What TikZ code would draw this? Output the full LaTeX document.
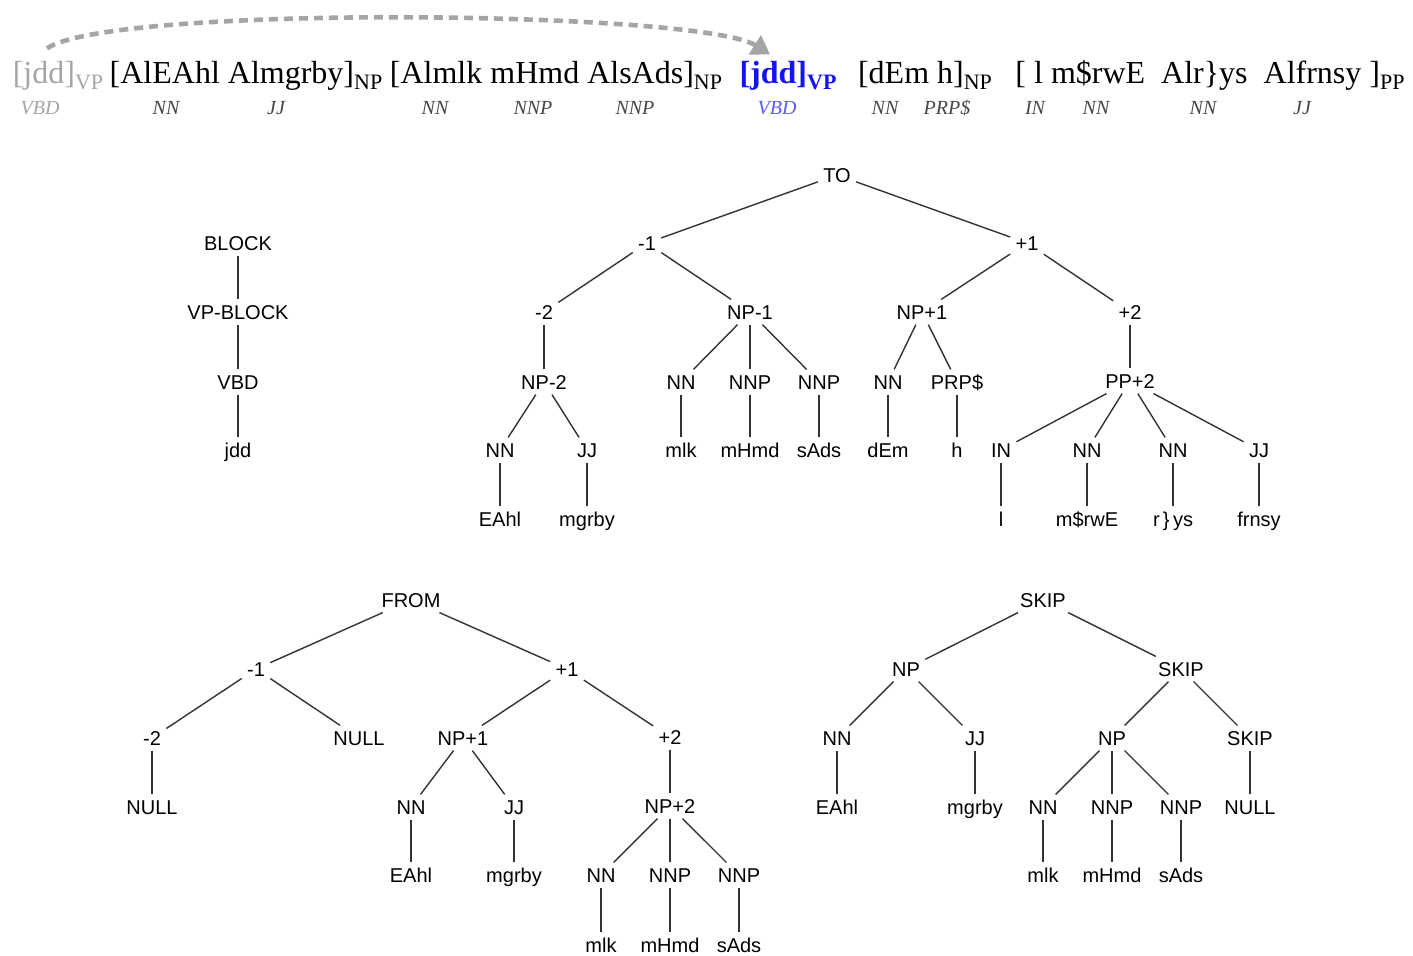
\documentclass[tikz,border=0pt]{standalone}
\usepackage{fontspec}
\setmainfont{Liberation Sans}
\newfontfamily\wordfont{Liberation Serif}
\usetikzlibrary{arrows.meta}
\definecolor{moved}{RGB}{165, 165, 165}
\definecolor{target}{RGB}{20, 20, 240}
\definecolor{tagged}{RGB}{70, 70, 70}
\newcommand{\phr}[2]{[#1]\raisebox{-0.45ex}{\fontsize{11}{11}\selectfont #2}}

\tikzset{
	lbl/.style={inner sep=2.5pt, text height=7.2pt, text depth=0pt, font=\fontsize{10}{12}\selectfont},
	word/.style={anchor=base, inner sep=1pt, font=\wordfont\fontsize{16}{18}\selectfont},
	tag/.style={inner sep=1pt, text=tagged, font=\wordfont\itshape\fontsize{10}{12}\selectfont},
	branch/.style={line width=0.7pt, draw=black!80},
	hop/.style={line width=2.3pt, draw=moved, dash pattern=on 4.5pt off 3pt, -{Triangle[length=9pt,width=11pt]}}
}

\begin{document}
\begin{tikzpicture}[x=0.5pt, y=-0.5pt]
	\useasboundingbox (0, 0) rectangle (1413, 955);

	% sentence with chunks
	\node[word, text=moved] (jddg) at (58, 83) {\phr{jdd}{VP}};
	\node[word] (chunka) at (246, 83) {\phr{AlEAhl Almgrby}{NP}};
	\node[word] (chunkb) at (556, 83) {\phr{Almlk mHmd AlsAds}{NP}};
	\node[word, text=target] (jddb) at (788, 83) {\bfseries\phr{jdd}{VP}};
	\node[word] (chunkc) at (925, 83) {\phr{dEm h}{NP}};
	\node[word] (chunkd) at (1210, 83) {\phr{ l m\$rwE\ \ Alr\}ys\ \ Alfrnsy }{PP}};

	\node[tag, text=moved] (tagvbda) at (40, 108) {VBD};
	\node[tag] (tagnna) at (166, 108) {NN};
	\node[tag] (tagjja) at (276, 108) {JJ};
	\node[tag] (tagnnb) at (435, 108) {NN};
	\node[tag] (tagnnpa) at (533, 108) {NNP};
	\node[tag] (tagnnpb) at (635, 108) {NNP};
	\node[tag, text=target!70] (tagvbdb) at (777, 108) {VBD};
	\node[tag] (tagnnc) at (885, 108) {NN};
	\node[tag] (tagprp) at (947, 108) {PRP\$};
	\node[tag] (tagin) at (1035, 108) {IN};
	\node[tag] (tagnnd) at (1096, 108) {NN};
	\node[tag] (tagnne) at (1203, 108) {NN};
	\node[tag] (tagjjb) at (1302, 108) {JJ};

	\draw[hop] ([xshift=-5.5pt, yshift=5pt]jddg.north) .. controls +(63, -44) and +(-70, -44) .. ([xshift=-9pt, yshift=2pt]jddb.north);

	% BLOCK
	\node[lbl] (bblock) at (238, 243) {BLOCK};
	\node[lbl] (bvp) at (238, 312) {VP-BLOCK};
	\node[lbl] (bvbd) at (238, 382) {VBD};
	\node[lbl] (bjdd) at (238, 450) {jdd};

	% TO
	\node[lbl] (tTO) at (837, 175) {TO};
	\node[lbl] (tm1) at (647, 243) {-1};
	\node[lbl] (tp1) at (1027, 243) {+1};
	\node[lbl] (tm2) at (544, 312) {-2};
	\node[lbl] (tnpm1) at (750, 312) {NP-1};
	\node[lbl] (tnpp1) at (922, 312) {NP+1};
	\node[lbl] (tp2) at (1130, 312) {+2};
	\node[lbl] (tnpm2) at (544, 382) {NP-2};
	\node[lbl] (tnna) at (681, 382) {NN};
	\node[lbl] (tnnpa) at (750, 382) {NNP};
	\node[lbl] (tnnpb) at (819, 382) {NNP};
	\node[lbl] (tnnb) at (888, 382) {NN};
	\node[lbl] (tprp) at (957, 382) {PRP\$};
	\node[lbl] (tpp) at (1130, 381) {PP+2};
	\node[lbl] (tnnc) at (500, 450) {NN};
	\node[lbl] (tjja) at (587, 450) {JJ};
	\node[lbl] (tmlk) at (681, 450) {mlk};
	\node[lbl] (tmhmd) at (750, 450) {mHmd};
	\node[lbl] (tsads) at (819, 450) {sAds};
	\node[lbl] (tdem) at (888, 450) {dEm};
	\node[lbl] (th) at (957, 450) {h};
	\node[lbl] (tin) at (1001, 450) {IN};
	\node[lbl] (tnnd) at (1087, 450) {NN};
	\node[lbl] (tnne) at (1173, 450) {NN};
	\node[lbl] (tjjb) at (1259, 450) {JJ};
	\node[lbl] (teahl) at (500, 519) {EAhl};
	\node[lbl] (tmgrby) at (587, 519) {mgrby};
	\node[lbl] (tl) at (1001, 519) {l};
	\node[lbl] (tmsrwe) at (1087, 519) {m\$rwE};
	\node[lbl] (trys) at (1173, 519) {r\,\}\,ys};
	\node[lbl] (tfrnsy) at (1259, 519) {frnsy};

	% FROM
	\node[lbl] (fFROM) at (411, 600) {FROM};
	\node[lbl] (fm1) at (256, 669) {-1};
	\node[lbl] (fp1) at (567, 669) {+1};
	\node[lbl] (fm2) at (152, 738) {-2};
	\node[lbl] (fnulla) at (359, 738) {NULL};
	\node[lbl] (fnpp1) at (463, 738) {NP+1};
	\node[lbl] (fp2) at (670, 737) {+2};
	\node[lbl] (fnullb) at (152, 807) {NULL};
	\node[lbl] (fnna) at (411, 807) {NN};
	\node[lbl] (fjj) at (514, 807) {JJ};
	\node[lbl] (fnpp2) at (670, 806) {NP+2};
	\node[lbl] (feahl) at (411, 875) {EAhl};
	\node[lbl] (fmgrby) at (514, 875) {mgrby};
	\node[lbl] (fnnb) at (601, 875) {NN};
	\node[lbl] (fnnpa) at (670, 875) {NNP};
	\node[lbl] (fnnpb) at (739, 875) {NNP};
	\node[lbl] (fmlk) at (601, 945) {mlk};
	\node[lbl] (fmhmd) at (670, 945) {mHmd};
	\node[lbl] (fsads) at (739, 945) {sAds};

	% SKIP
	\node[lbl] (sSKIP) at (1043, 600) {SKIP};
	\node[lbl] (snpa) at (906, 669) {NP};
	\node[lbl] (sskipa) at (1181, 669) {SKIP};
	\node[lbl] (snna) at (837, 738) {NN};
	\node[lbl] (sjj) at (975, 738) {JJ};
	\node[lbl] (snpb) at (1112, 738) {NP};
	\node[lbl] (sskipb) at (1250, 738) {SKIP};
	\node[lbl] (seahl) at (837, 807) {EAhl};
	\node[lbl] (smgrby) at (975, 807) {mgrby};
	\node[lbl] (snnb) at (1043, 807) {NN};
	\node[lbl] (snnpa) at (1112, 807) {NNP};
	\node[lbl] (snnpb) at (1181, 807) {NNP};
	\node[lbl] (snull) at (1250, 807) {NULL};
	\node[lbl] (smlk) at (1043, 875) {mlk};
	\node[lbl] (smhmd) at (1112, 875) {mHmd};
	\node[lbl] (ssads) at (1181, 875) {sAds};

	% branches
	\foreach \a/\b in {bblock/bvp, bvp/bvbd, bvbd/bjdd,
		tTO/tm1, tTO/tp1, tm1/tm2, tm1/tnpm1, tp1/tnpp1, tp1/tp2,
		tm2/tnpm2, tnpm1/tnna, tnpm1/tnnpa, tnpm1/tnnpb, tnpp1/tnnb, tnpp1/tprp, tp2/tpp,
		tnpm2/tnnc, tnpm2/tjja, tnna/tmlk, tnnpa/tmhmd, tnnpb/tsads, tnnb/tdem, tprp/th,
		tpp/tin, tpp/tnnd, tpp/tnne, tpp/tjjb,
		tnnc/teahl, tjja/tmgrby, tin/tl, tnnd/tmsrwe, tnne/trys, tjjb/tfrnsy,
		fFROM/fm1, fFROM/fp1, fm1/fm2, fm1/fnulla, fp1/fnpp1, fp1/fp2,
		fm2/fnullb, fnpp1/fnna, fnpp1/fjj, fp2/fnpp2,
		fnna/feahl, fjj/fmgrby, fnpp2/fnnb, fnpp2/fnnpa, fnpp2/fnnpb,
		fnnb/fmlk, fnnpa/fmhmd, fnnpb/fsads,
		sSKIP/snpa, sSKIP/sskipa, snpa/snna, snpa/sjj, sskipa/snpb, sskipa/sskipb,
		snna/seahl, sjj/smgrby, snpb/snnb, snpb/snnpa, snpb/snnpb, sskipb/snull,
		snnb/smlk, snnpa/smhmd, snnpb/ssads}
		\draw[branch] (\a) -- (\b);
\end{tikzpicture}
\end{document}
